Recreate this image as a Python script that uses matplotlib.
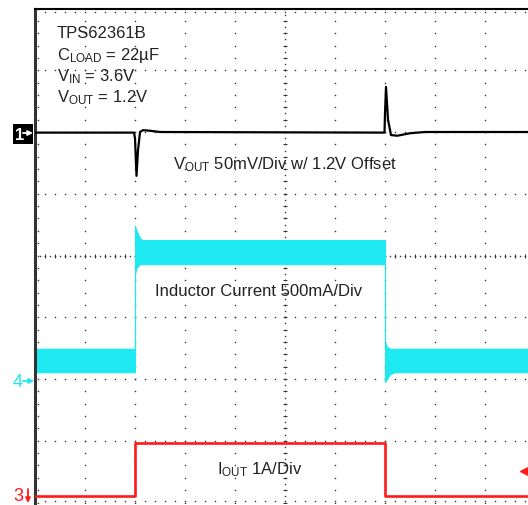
import numpy as np
import matplotlib
matplotlib.use('Agg')
import matplotlib.pyplot as plt
from matplotlib.patches import Rectangle, FancyArrowPatch

plt.rcParams['font.family'] = ['Liberation Sans', 'DejaVu Sans']
plt.rcParams['mathtext.fontset'] = 'custom'
plt.rcParams['mathtext.rm'] = 'Liberation Sans'
plt.rcParams['mathtext.it'] = 'Liberation Sans'

# scope screen in divisions: x 0..10, y 0..8
# channel 1 - output voltage (black)
vout_t = [0, 1.98, 2.0, 2.03, 2.06, 2.1, 2.16, 2.3, 2.5, 6.99, 7.0, 7.02, 7.06, 7.12, 7.25, 7.5, 7.8, 10]
vout_v = [5.99, 5.99, 5.9, 5.29, 5.7, 6.0, 6.03, 6.02, 6.0, 5.99, 6.3, 6.73, 6.2, 5.95, 5.94, 5.98, 6.0, 6.0]

# channel 4 - inductor current ripple envelope (cyan)
il_t = [0, 2.0, 2.0, 2.03, 2.1, 2.15, 7.0, 7.0, 7.04, 7.1, 7.2, 10]
il_hi = [2.49, 2.49, 4.48, 4.4, 4.28, 4.25, 4.25, 2.6, 2.52, 2.49, 2.49, 2.49]
il_lo = [2.11, 2.11, 3.7, 3.8, 3.86, 3.86, 3.86, 1.95, 2.0, 2.08, 2.11, 2.11]

# channel 3 - load current (red)
iout_t = [0, 2.0, 2.0, 7.0, 7.0, 10]
iout_v = [0.105, 0.105, 0.96, 0.96, 0.105, 0.105]

info_lines = ['TPS62361B', r'C$_{\mathrm{LOAD}}$ = 22µF', r'V$_{\mathrm{IN}}$ = 3.6V', r'V$_{\mathrm{OUT}}$ = 1.2V']
info_base = [7.54, 7.18, 6.84, 6.49]

CYAN = '#1ee8f0'
RED = '#ff1a1a'

W, H = 528, 506
fig = plt.figure(figsize=(W / 100, H / 100), dpi=100)
ax = fig.add_axes([35 / W, 2.5 / H, 500 / W, 494 / H])
ax.set_xlim(0, 10)
ax.set_ylim(0, 8)
ax.set_xticks([])
ax.set_yticks([])
for s in ['right', 'bottom']:
    ax.spines[s].set_visible(False)
ax.spines['left'].set_color('#333333')
ax.spines['left'].set_linewidth(2.2)
ax.spines['top'].set_color('black')
ax.spines['top'].set_linewidth(1.5)

# graticule dots
gcol = '#333333'
dot = dict(linestyle='none', marker='s', markersize=1.0, markeredgewidth=0, color=gcol, zorder=1)
xs = np.arange(0, 10.01, 0.2)
ys = np.arange(0, 8.01, 0.2)
for i in range(1, 10):
    ax.plot(np.full(len(ys), i), ys, **dot)
for j in range(0, 8):
    ax.plot(xs, np.full(len(xs), j + 0.02 if j == 0 else j), **dot)
# ticks along top and left border
ax.plot(xs, np.full(len(xs), 7.94), **dot)
ax.plot(np.full(len(ys), 0.06), ys, **dot)
# center axes with fine ticks
xf = np.arange(0, 10.01, 0.1)
yf = np.arange(0, 8.01, 0.1)
ax.plot(xf, np.full(len(xf), 4), **dot)
ax.plot(xs, np.full(len(xs), 4), linestyle='none', marker='|', markersize=3.5, markeredgewidth=0.7, color=gcol, zorder=1)
ax.plot(np.full(len(yf), 5), yf, **dot)
ax.plot(np.full(len(ys), 5), ys, linestyle='none', marker='_', markersize=3.5, markeredgewidth=0.7, color=gcol, zorder=1)

# traces
ax.fill_between(il_t, il_lo, il_hi, color=CYAN, linewidth=0.8, edgecolor=CYAN, zorder=2)
ax.plot(vout_t, vout_v, color='black', linewidth=1.6, zorder=3)
ax.plot(iout_t, iout_v, color=RED, linewidth=1.9, zorder=3)

# trigger level marker
ax.plot([9.8], [0.51], marker='<', markersize=7, color=RED, clip_on=False, zorder=4)

# annotations
for txt, yb in zip(info_lines, info_base):
    ax.text(0.44, yb, txt, fontsize=12, color='#222222', va='baseline', ha='left')
ax.text(2.76, 5.42, r'V$_{\mathrm{OUT}}$ 50mV/Div w/ 1.2V Offset', fontsize=12, color='#222222', va='baseline')
ax.text(2.4, 3.36, 'Inductor Current 500mA/Div', fontsize=12, color='#222222', va='baseline')
ax.text(3.64, 0.48, r'I$_{\mathrm{OUT}}$ 1A/Div', fontsize=12, color='#222222', va='baseline')


# channel markers at the left edge (pixel positions)
def px(x, y):
    return (x / W, 1 - y / H)


def arrow(p0, p1, col):
    fig.add_artist(FancyArrowPatch(px(*p0), px(*p1), transform=fig.transFigure,
                                   arrowstyle='-|>', mutation_scale=7, lw=1.3, color=col,
                                   shrinkA=0, shrinkB=0, zorder=6))


fig.add_artist(Rectangle(px(13, 145), 20 / W, 20 / H, transform=fig.transFigure,
                         facecolor='black', edgecolor='none', zorder=5))
fig.text(*px(14.5, 135), '1', color='white', fontsize=12, fontweight='bold', va='center', ha='left', zorder=6)
arrow((23, 134), (33, 134), 'white')
fig.text(*px(13, 383), '4', color=CYAN, fontsize=13, va='center', ha='left')
arrow((23, 382), (34, 382), CYAN)
fig.text(*px(13, 497), '3', color=RED, fontsize=13, va='center', ha='left')
arrow((28, 490), (28, 504), RED)

fig.savefig('out.png', dpi=100)
